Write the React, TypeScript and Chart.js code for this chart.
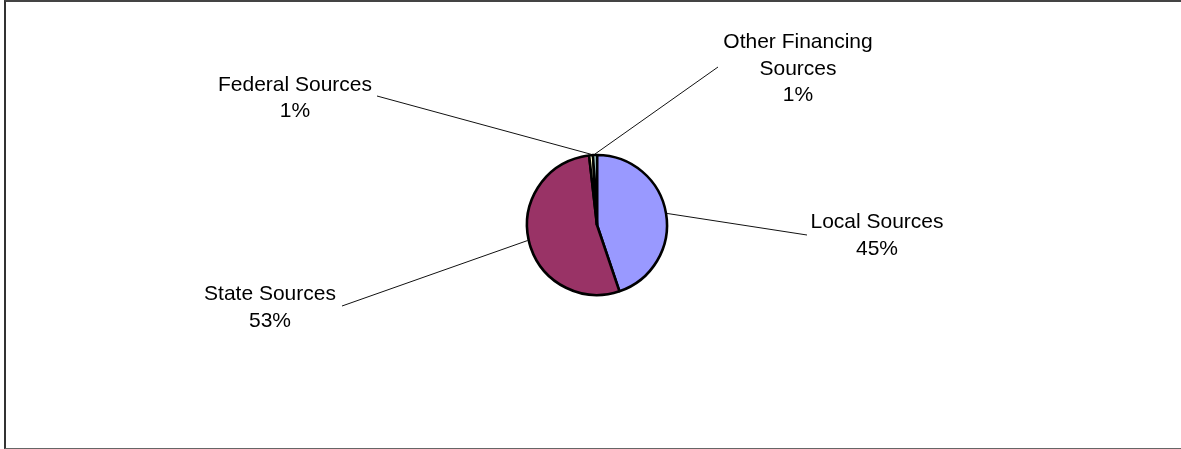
import React, { useEffect, useRef } from "react";
import { Chart, registerables } from "chart.js";

Chart.register(...registerables);

const categories = ["Local Sources", "State Sources", "Federal Sources", "Other Financing Sources"];
const labelLines = [["Local Sources"], ["State Sources"], ["Federal Sources"], ["Other Financing", "Sources"]];
const values = [44.8, 53.4, 0.9, 0.9];
const colors = ["#9999FF", "#993366", "#FFFFCC", "#CCFFFF"];

// label placement relative to pie centre: [lineEndDx, lineEndDy, textDx, textBaselineDy]
const labelPlacement = [
  [210, 10, 280, 3.3],
  [-255, 81, -327, 75],
  [-220, -129, -302, -134.3],
  [121, -158, 201, -176.7],
];

const leaderPlugin = {
  id: "leaders",
  afterDatasetsDraw(chart: any) {
    const ctx = chart.ctx;
    const meta = chart.getDatasetMeta(0);
    const total = values.reduce((a, b) => a + b, 0);
    ctx.save();
    meta.data.forEach((arc: any, i: number) => {
      const { x, y, startAngle, endAngle, outerRadius } = arc.getProps(
        ["x", "y", "startAngle", "endAngle", "outerRadius"],
        true
      );
      const mid = (startAngle + endAngle) / 2;
      const sx = x + Math.cos(mid) * (outerRadius + 1);
      const sy = y + Math.sin(mid) * (outerRadius + 1);
      const p = labelPlacement[i];
      ctx.beginPath();
      ctx.strokeStyle = "#111";
      ctx.lineWidth = 1;
      ctx.moveTo(sx, sy);
      ctx.lineTo(x + p[0], y + p[1]);
      ctx.stroke();
      ctx.fillStyle = "#000";
      ctx.font = "21px 'Liberation Sans', Arial, sans-serif";
      ctx.textAlign = "center";
      ctx.textBaseline = "alphabetic";
      const lines = [...labelLines[i], Math.round((values[i] / total) * 100) + "%"];
      lines.forEach((t, k) => {
        ctx.fillText(t, x + p[2], y + p[3] + k * 26.5);
      });
    });
    ctx.restore();
  },
};

export default function App() {
  const ref = useRef<HTMLCanvasElement>(null);
  useEffect(() => {
    if (!ref.current) return;
    const chart = new Chart(ref.current, {
      type: "pie",
      data: {
        labels: categories,
        datasets: [
          {
            data: values,
            backgroundColor: colors,
            borderColor: "#000",
            borderWidth: 2.6,
            hoverOffset: 0,
          },
        ],
      },
      options: {
        responsive: false,
        animation: false,
        devicePixelRatio: 1,
        radius: 70,
        layout: { padding: { left: 497, right: 484, top: 125, bottom: 124 } },
        plugins: {
          legend: { display: false },
          tooltip: { enabled: false },
        },
      },
      plugins: [leaderPlugin],
    });
    return () => chart.destroy();
  }, []);
  return (
    <div style={{ position: "absolute", left: 0, top: 0, width: 1181, height: 449, background: "#fff", overflow: "hidden" }}>
      <div
        style={{
          position: "absolute",
          left: 4,
          top: 0,
          width: 1300,
          height: 446,
          borderLeft: "2px solid #333",
          borderTop: "2px solid #444",
          borderBottom: "1px solid #666",
        }}
      />
      <canvas ref={ref} width={1181} height={449} style={{ position: "absolute", left: 0, top: 0 }} />
    </div>
  );
}
